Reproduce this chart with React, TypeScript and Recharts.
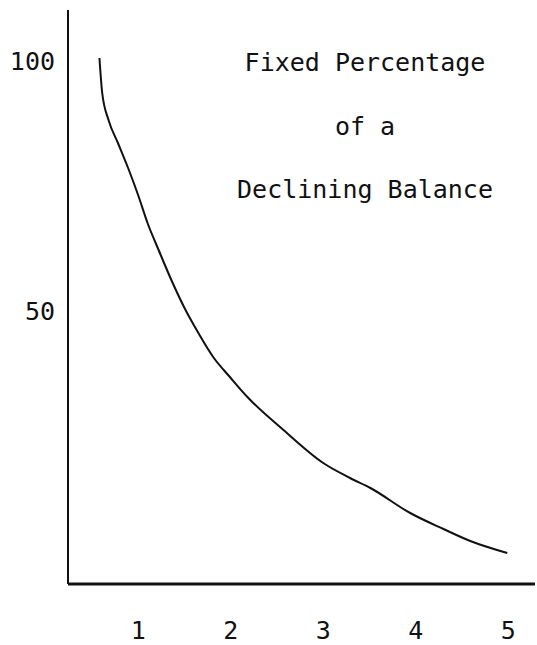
import React from "react"
import { LineChart, Line, XAxis, YAxis } from "recharts"

// curve (x in years, y in % of original value)
const years = [0.58, 0.61, 0.68, 0.78, 0.89, 1.0, 1.1, 1.22, 1.36, 1.5, 1.65, 1.81, 2.0, 2.18, 2.57, 3.0, 3.29, 3.51, 3.94, 4.3, 4.59, 4.99]
const balance = [101, 94, 88.5, 84, 79, 73.5, 68, 62.6, 56.5, 51, 46, 41.2, 37, 33.2, 26.6, 20, 17, 15, 10, 6.8, 4.4, 2]

const xTicks = [1, 2, 3, 4, 5]
const yTicks = [50, 100]
const titleLines = ["Fixed Percentage", "of a", "Declining Balance"]

const data = years.map((x, i) => ({ x, y: balance[i] }))

const FONT = "'DejaVu Sans Mono', monospace"
const INK = "#111"

const XTick = (props: any) => (
  <text x={props.x} y={props.y} dy={48} textAnchor="middle" dominantBaseline="middle" fontFamily={FONT} fontSize={25} fill={INK}>
    {props.payload.value}
  </text>
)

const YTick = (props: any) => (
  <text x={props.x} y={props.y} dx={-13} textAnchor="end" dominantBaseline="middle" fontFamily={FONT} fontSize={25} fill={INK}>
    {props.payload.value}
  </text>
)

export default function App() {
  return (
    <div style={{ position: "absolute", left: 0, top: 0, width: 537, height: 645, background: "#fff" }}>
      <LineChart width={537} height={645} data={data} margin={{ top: 10, right: 2, bottom: 0, left: 0 }}>
        <XAxis
          dataKey="x"
          type="number"
          domain={[0.24, 5.29]}
          allowDataOverflow
          ticks={xTicks}
          height={61}
          tickSize={0}
          tickMargin={0}
          tickLine={false}
          axisLine={{ stroke: INK, strokeWidth: 3 }}
          tick={<XTick />}
        />
        <YAxis
          type="number"
          domain={[-4.2, 110.6]}
          allowDataOverflow
          ticks={yTicks}
          width={68}
          tickSize={0}
          tickMargin={0}
          tickLine={false}
          axisLine={{ stroke: INK, strokeWidth: 2 }}
          tick={<YTick />}
        />
        <Line
          dataKey="y"
          type="monotone"
          stroke={INK}
          strokeWidth={2}
          dot={false}
          isAnimationActive={false}
        />
      </LineChart>
      {titleLines.map((t, i) => (
        <div
          key={t}
          style={{
            position: "absolute",
            left: 200,
            width: 330,
            top: 63 + i * 63.5 - 15,
            height: 30,
            lineHeight: "30px",
            textAlign: "center",
            fontFamily: FONT,
            fontSize: 25,
            color: INK,
          }}
        >
          {t}
        </div>
      ))}
    </div>
  )
}
